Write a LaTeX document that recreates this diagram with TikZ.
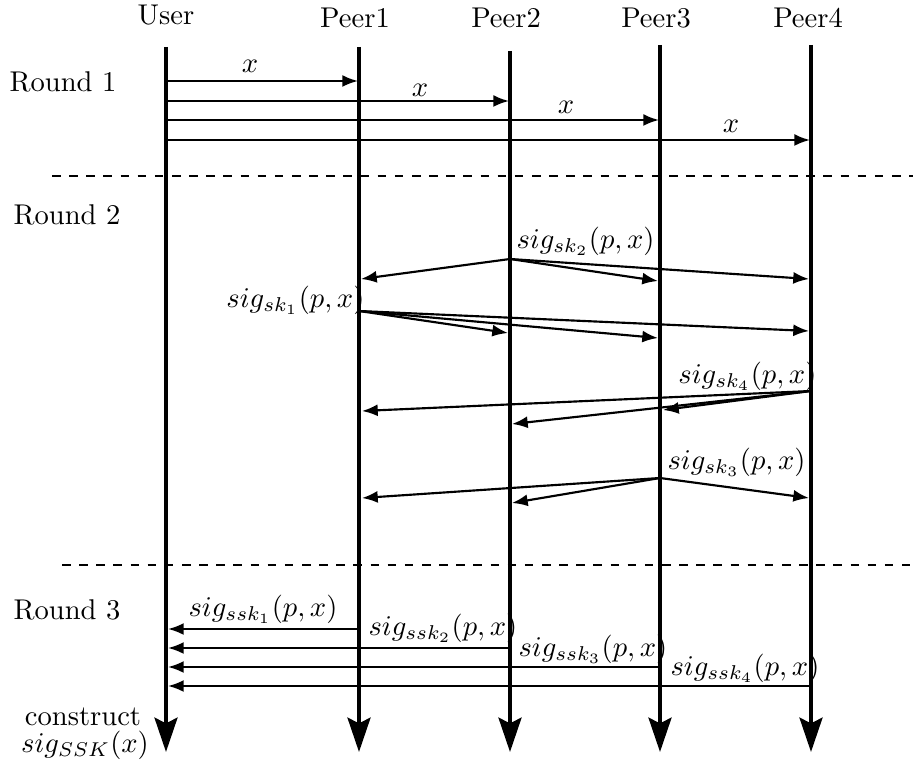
\documentclass[tikz,border=0pt]{standalone}
\usetikzlibrary{arrows.meta}

\begin{document}
\begin{tikzpicture}[x = 0.35pt, y = -0.35pt,
  lifeline/.style = {line width = 1.5pt, -{Stealth[length = 12pt, width = 8pt, inset = 2pt]}},
  msg/.style = {line width = 0.75pt, -{Latex[length = 5.5pt, width = 4.2pt]}},
  sep/.style = {dashed, line width = 0.7pt},
  lbl/.style = {inner sep = 0pt}]
\useasboundingbox (0,0) rectangle (913,766);
\begin{scope}
% parties
\node (user) at (166,15) {User};
\node (p1) at (355,18) {Peer1};
\node (p2) at (506,18) {Peer2};
\node (p3) at (656,18) {Peer3};
\node (p4) at (808,18) {Peer4};
\coordinate (u0) at (166,47);
\coordinate (u1) at (166,752);
\coordinate (a0) at (359,47);
\coordinate (a1) at (359,752);
\coordinate (b0) at (510,51);
\coordinate (b1) at (510,752);
\coordinate (c0) at (660,45);
\coordinate (c1) at (660,752);
\coordinate (d0) at (811,45);
\coordinate (d1) at (811,752);
\draw[lifeline] (u0) -- (u1);
\draw[lifeline] (a0) -- (a1);
\draw[lifeline] (b0) -- (b1);
\draw[lifeline] (c0) -- (c1);
\draw[lifeline] (d0) -- (d1);
% rounds
\node (rd1) at (63,82) {Round 1};
\node (rd2) at (67,215) {Round 2};
\node (rd3) at (67,610) {Round 3};
\coordinate (sepa0) at (52,176);
\coordinate (sepa1) at (913,176);
\coordinate (sepb0) at (62,565);
\coordinate (sepb1) at (910,565);
\draw[sep] (sepa0) -- (sepa1);
\draw[sep] (sepb0) -- (sepb1);
% round 1
\coordinate (x1s) at (166,81);
\coordinate (x1e) at (358,81);
\coordinate (x2s) at (166,101);
\coordinate (x2e) at (509,101);
\coordinate (x3s) at (166,120);
\coordinate (x3e) at (659,120);
\coordinate (x4s) at (166,140);
\coordinate (x4e) at (810,140);
\draw[msg] (x1s) -- (x1e);
\draw[msg] (x2s) -- (x2e);
\draw[msg] (x3s) -- (x3e);
\draw[msg] (x4s) -- (x4e);
\node[lbl] (x1) at (250,66) {$x$};
\node[lbl] (x2) at (420,90) {$x$};
\node[lbl] (x3) at (566,107) {$x$};
\node[lbl] (x4) at (731,126) {$x$};
% round 2
\coordinate (k2) at (510,259);
\coordinate (k2a) at (361,279);
\coordinate (k2c) at (658,281);
\coordinate (k2d) at (809,279);
\draw[msg] (k2) -- (k2a);
\draw[msg] (k2) -- (k2c);
\draw[msg] (k2) -- (k2d);
\node[lbl, anchor = west] (sk2) at (516,241) {$sig_{sk_2}(p,x)$};
\coordinate (k1) at (359,311);
\coordinate (k1b) at (508,333);
\coordinate (k1c) at (658,338);
\coordinate (k1d) at (809,331);
\draw[msg] (k1) -- (k1b);
\draw[msg] (k1) -- (k1c);
\draw[msg] (k1) -- (k1d);
\node[lbl, anchor = east] (sk1) at (365,300) {$sig_{sk_1}(p,x)$};
\coordinate (k4) at (811,391);
\coordinate (k4a) at (362,411);
\coordinate (k4b) at (512,424);
\coordinate (k4c) at (663,410);
\draw[msg] (k4) -- (k4a);
\draw[msg] (k4) -- (k4b);
\draw[msg] (k4) -- (k4c);
\node[lbl, anchor = east] (sk4) at (817,376) {$sig_{sk_4}(p,x)$};
\coordinate (k3) at (660,478);
\coordinate (k3a) at (362,498);
\coordinate (k3b) at (512,503);
\coordinate (k3d) at (809,498);
\draw[msg] (k3) -- (k3a);
\draw[msg] (k3) -- (k3b);
\draw[msg] (k3) -- (k3d);
\node[lbl, anchor = west] (sk3) at (667,462) {$sig_{sk_3}(p,x)$};
% round 3
\coordinate (q1) at (359,629);
\coordinate (q1u) at (168,629);
\coordinate (q2) at (510,648);
\coordinate (q2u) at (168,648);
\coordinate (q3) at (660,667);
\coordinate (q3u) at (168,667);
\coordinate (q4) at (811,686);
\coordinate (q4u) at (168,686);
\draw[msg] (q1) -- (q1u);
\draw[msg] (q2) -- (q2u);
\draw[msg] (q3) -- (q3u);
\draw[msg] (q4) -- (q4u);
\node[lbl] (ssk1) at (263,609) {$sig_{ssk_1}(p,x)$};
\node[lbl, anchor = west] (ssk2) at (368,628) {$sig_{ssk_2}(p,x)$};
\node[lbl, anchor = west] (ssk3) at (518,649) {$sig_{ssk_3}(p,x)$};
\node[lbl, anchor = west] (ssk4) at (670,668) {$sig_{ssk_4}(p,x)$};
\node (cons) at (83,717) {construct};
\node (sigK) at (85,745) {$sig_{SSK}(x)$};
\end{scope}
\end{tikzpicture}
\end{document}
